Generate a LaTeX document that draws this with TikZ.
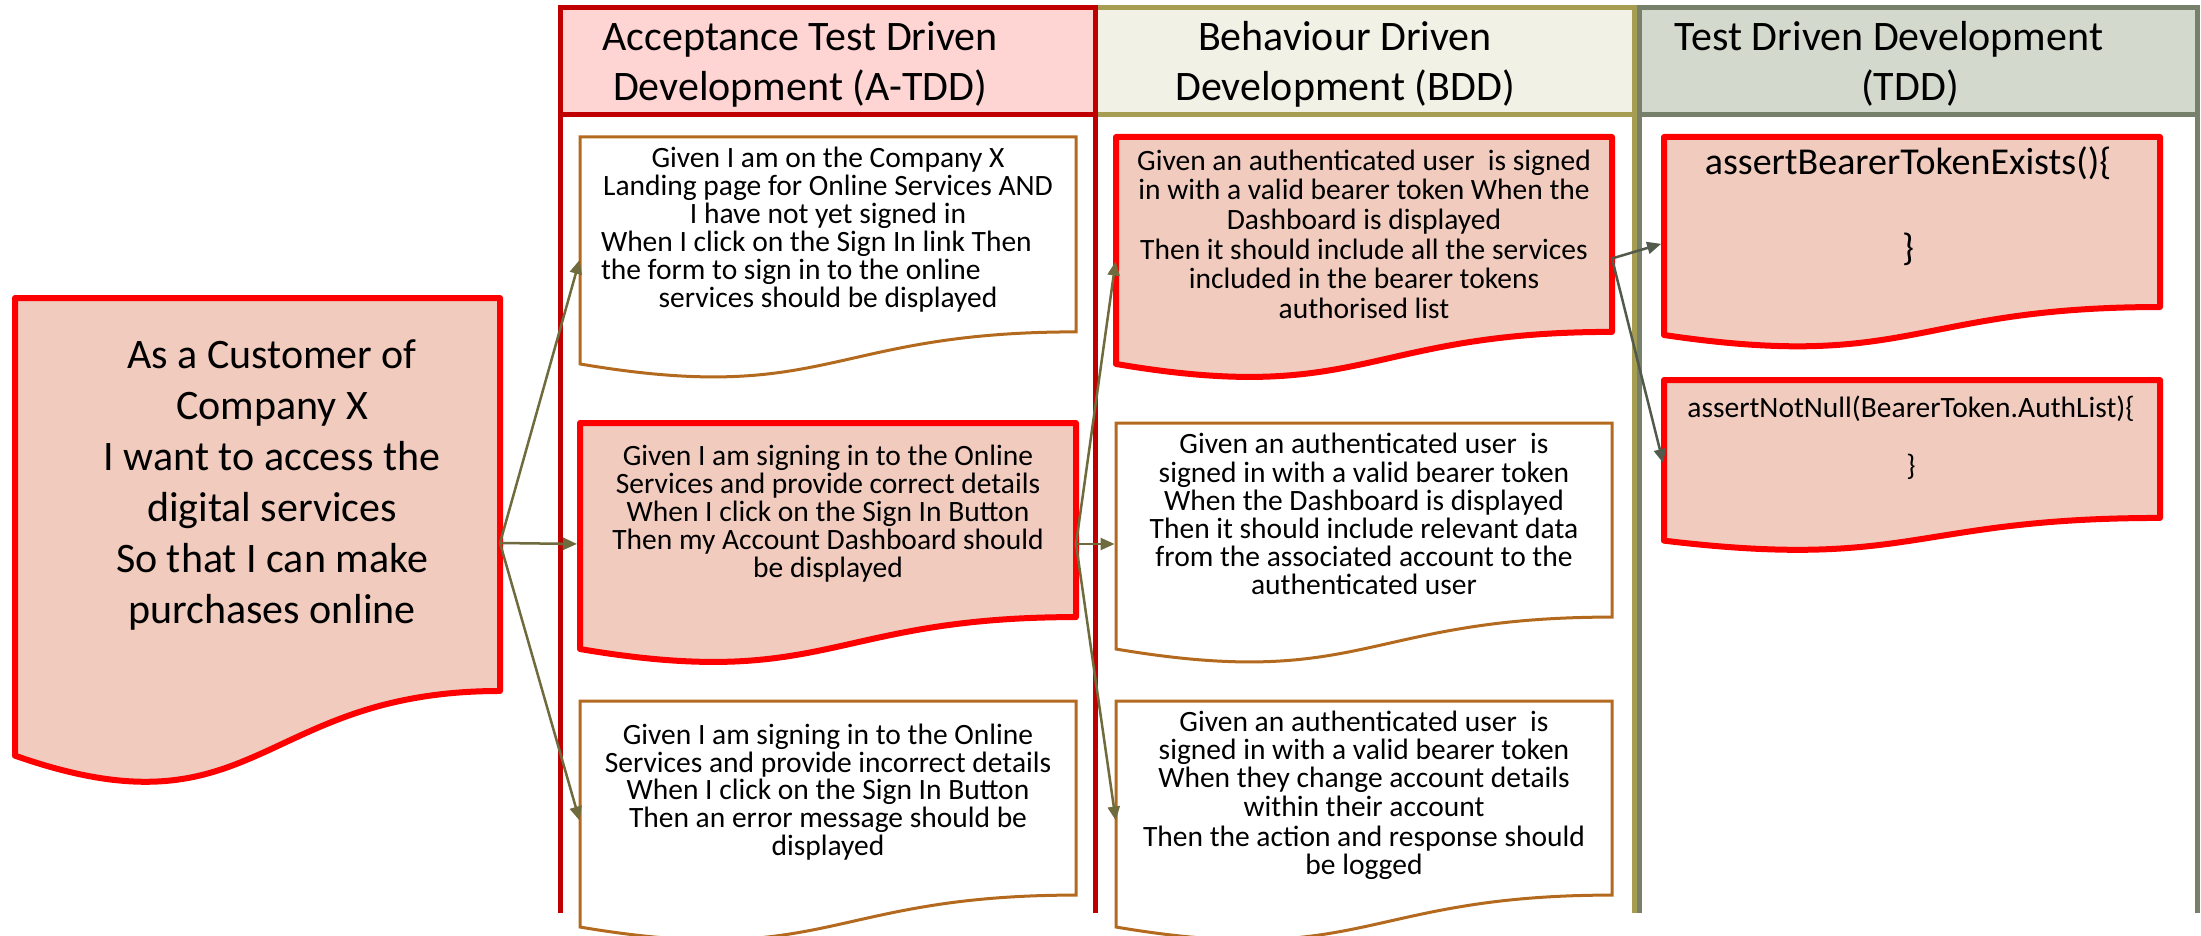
\documentclass[tikz,border=0pt]{standalone}
\usepackage{fontspec}
\setmainfont{Carlito}
\usetikzlibrary{arrows.meta}
\definecolor{cardpink}{HTML}{F0CBBE}
\definecolor{cardred}{HTML}{FF0000}
\definecolor{cardbrown}{HTML}{B46A1E}
\definecolor{atddline}{HTML}{C00000}
\definecolor{atddfill}{HTML}{FFD5D3}
\definecolor{bddline}{HTML}{A69D52}
\definecolor{bddfill}{HTML}{F2F1E6}
\definecolor{tddline}{HTML}{76806A}
\definecolor{tddfill}{HTML}{D4D9CE}
\definecolor{arrowolive}{HTML}{6F6B3C}
\definecolor{arrowgrey}{HTML}{525A4B}
\newcommand\tstrut{\rule{0pt}{0.8em}}
% name, x0, y0, width, height, style
\newcommand\docshape[6]{%
  \node[inner sep=0pt, outer sep=0pt, minimum width=#4pt, minimum height=#5pt, anchor=north west] (#1) at (#2,#3) {};
  \draw[#6] (#2,#3) -- ({#2+#4},#3) -- ({#2+#4},{#3+0.802*#5})
     .. controls ({#2+0.5*#4},{#3+0.802*#5}) and ({#2+0.5*#4},{#3+1.1075*#5}) .. (#2,{#3+0.934*#5}) -- cycle;
}
\tikzset{
  redcard/.style={fill=cardpink, draw=cardred, line width=6pt, line join=round},
  browncard/.style={fill=white, draw=cardbrown, line width=3pt},
  flow/.style={draw=arrowolive, line width=2.5pt, -{Triangle[length=14pt,width=12pt]}},
  flowdark/.style={draw=arrowgrey, line width=2.5pt, -{Triangle[length=14pt,width=12pt]}},
  headtxt/.style={inner sep=0pt, anchor=north, align=center, font={\fontsize{42}{50}\selectfont}},
  bigtxt/.style={inner sep=0pt, anchor=north, align=center, font={\fontsize{42}{51}\selectfont}},
  cardtxt/.style={inner sep=0pt, anchor=north, align=center, font={\fontsize{29.5}{#1}\selectfont}},
  colA/.style={draw=atddline, line width=5pt},
  colB/.style={draw=bddline, line width=5pt},
  colT/.style={draw=tddline, line width=5pt},
}
\begin{document}
\lineskiplimit=-100pt\relax
\begin{tikzpicture}[x=1pt,y=-1pt]
\useasboundingbox (0,0) rectangle (2201,936);
\fill[white] (0,0) rectangle (2201,936);

% columns
\filldraw[colB, fill=bddfill] (1095,7.5) rectangle (1634,115);
\draw[colB] (1095,7.5) -- (1095,913) (1634,7.5) -- (1634,913);
\filldraw[colT, fill=tddfill] (1639,7.5) rectangle (2197,115);
\draw[colT] (1639,7.5) -- (1639,913) (2197,7.5) -- (2197,913);
\filldraw[colA, fill=atddfill] (560,7.5) rectangle (1095,115);
\draw[colA] (560,7.5) -- (560,913) (1095,7.5) -- (1095,913);

\node[headtxt] (hA) at (800,16.4) {\tstrut Acceptance Test Driven\\Development (A-TDD)};
\node[headtxt] (hB) at (1345,16.4) {\tstrut Behaviour Driven\\Development (BDD)};
\node[headtxt] (hT) at (1910,16.4) {\tstrut Test Driven Development\hspace*{42pt}\\(TDD)};

% cards
\docshape{L}{15}{298}{485}{490}{redcard}
\docshape{A1}{580}{137}{496}{243}{browncard}
\docshape{A2}{580}{423}{496}{242}{redcard}
\docshape{A3}{580}{701}{496}{242}{browncard}
\docshape{B1}{1116}{137}{496}{243}{redcard}
\docshape{B2}{1116}{423}{496}{242}{browncard}
\docshape{B3}{1116}{701}{496}{242}{browncard}
\docshape{T1}{1664}{137}{496}{212}{redcard}
\docshape{T2}{1664}{380}{496}{172}{redcard}

% texts
\node[bigtxt] (Lt) at (272,334.4) {\tstrut As a Customer of\\Company X\\I want to access the\\digital services\\So that I can make\\purchases online};
\node[cardtxt=28] (A1t) at (828,143.4) {\tstrut Given I am on the Company X\\Landing page for Online Services AND\\I have not yet signed in\\\makebox[454pt][l]{When I click on the Sign In link Then}\\\makebox[454pt][l]{the form to sign in to the online}\\services should be displayed};
\node[cardtxt=28] (A2t) at (828,441.9) {\tstrut Given I am signing in to the Online\\Services and provide correct details\\When I click on the Sign In Button\\Then my Account Dashboard should\\be displayed};
\node[cardtxt=27.8] (A3t) at (828,720.4) {\tstrut Given I am signing in to the Online\\Services and provide incorrect details\\When I click on the Sign In Button\\Then an error message should be\\displayed};
\node[cardtxt=29.6] (B1t) at (1364,146.4) {\tstrut Given an authenticated user~ is signed\\in with a valid bearer token When the\\Dashboard is displayed\\Then it should include all the services\\included in the bearer tokens\\authorised list};
\node[cardtxt=28.2] (B2t) at (1364,430) {\tstrut Given an authenticated user~ is\\signed in with a valid bearer token\\When the Dashboard is displayed\\Then it should include relevant data\\from the associated account to the\\authenticated user};
\node[cardtxt=28.3] (B3t) at (1364,707.4) {\tstrut Given an authenticated user~ is\\signed in with a valid bearer token\\When they change account details\\within their account\\[2pt]Then the action and response should\\be logged};
\node[inner sep=0pt, anchor=north, align=center, font={\fontsize{38}{86}\selectfont}] (T1t) at (1908,143.6) {\tstrut assertBearerTokenExists()\{\\\}};
\node[cardtxt=58] (T2t) at (1911,393.4) {\tstrut assertNotNull(BearerToken.AuthList)\{\\\}};

% connectors
\draw[flow, shorten >=1.5pt] (L.east) -- (A1.west);
\draw[flow, shorten >=3pt] (L.east) -- (A2.west);
\draw[flow, shorten >=1.5pt] (L.east) -- (A3.west);
\draw[flow, shorten >=3pt] (A2.east) -- (B1.west);
\draw[flow, shorten >=1.5pt] (A2.east) -- (B2.west);
\draw[flow, shorten >=1.5pt] (A2.east) -- (B3.west);
\draw[flowdark, shorten >=3pt] (B1.east) -- (T1.west);
\draw[flowdark, shorten >=3pt] (B1.east) -- (T2.west);
\end{tikzpicture}
\end{document}
